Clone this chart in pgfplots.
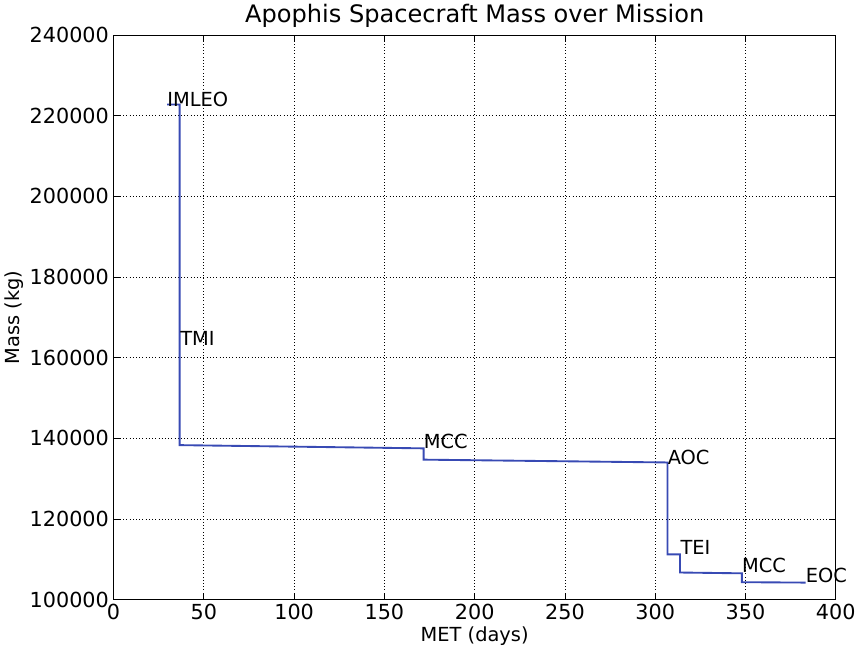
\documentclass[border=0pt]{standalone}
\usepackage{fontspec}
\setmainfont{DejaVu Sans}
\usepackage{pgfplots}
\pgfplotsset{compat=1.18}
\definecolor{mline}{RGB}{56,74,180}

\begin{document}
\begin{tikzpicture}
\begin{axis}[
    scale only axis,
    width=540pt, height=422pt,
    xmin=0, xmax=400,
    ymin=100000, ymax=240000,
    xtick={0,50,...,400},
    ytick={100000,120000,...,240000},
    scaled y ticks=false,
    /pgf/number format/fixed,
    /pgf/number format/1000 sep={},
    /pgf/number format/assume math mode=true,
    tick label style={font=\fontsize{15.5}{17}\selectfont},
    label style={font=\fontsize{14.5}{16}\selectfont},
    title style={font=\fontsize{18}{20}\selectfont, yshift=-4pt},
    title={Apophis Spacecraft Mass over Mission},
    xlabel={MET (days)},
    ylabel={Mass (kg)},
    xlabel style={yshift=2pt},
    ylabel style={yshift=-2pt},
    grid=major,
    grid style={black, dotted, line width=0.6pt},
    major tick length=5pt,
    tick style={black, line width=0.6pt},
    axis line style={line width=0.9pt},
    clip=false,
]
\addplot[mline, line width=1.4pt] coordinates {
    (29.6,222800) (36.6,222800) (36.6,138300)
    (171.7,137500) (171.7,134700)
    (306.8,134000) (306.8,111200)
    (313.7,111200) (313.7,106700)
    (348.0,106500) (348.0,104300)
    (383.3,104200)
};
\begin{scope}[every node/.style={anchor=base west, inner sep=0pt, font=\fontsize{14.5}{16}\selectfont}]
\node at (axis cs:29.6,222400) {IMLEO};
\node at (axis cs:36.8,163100) {TMI};
\node at (axis cs:171.7,137400) {MCC};
\node at (axis cs:306.8,133600) {AOC};
\node at (axis cs:313.9,111200) {TEI};
\node at (axis cs:348.0,106700) {MCC};
\node at (axis cs:383.3,104200) {EOC};
\end{scope}
\end{axis}
\end{tikzpicture}
\end{document}
